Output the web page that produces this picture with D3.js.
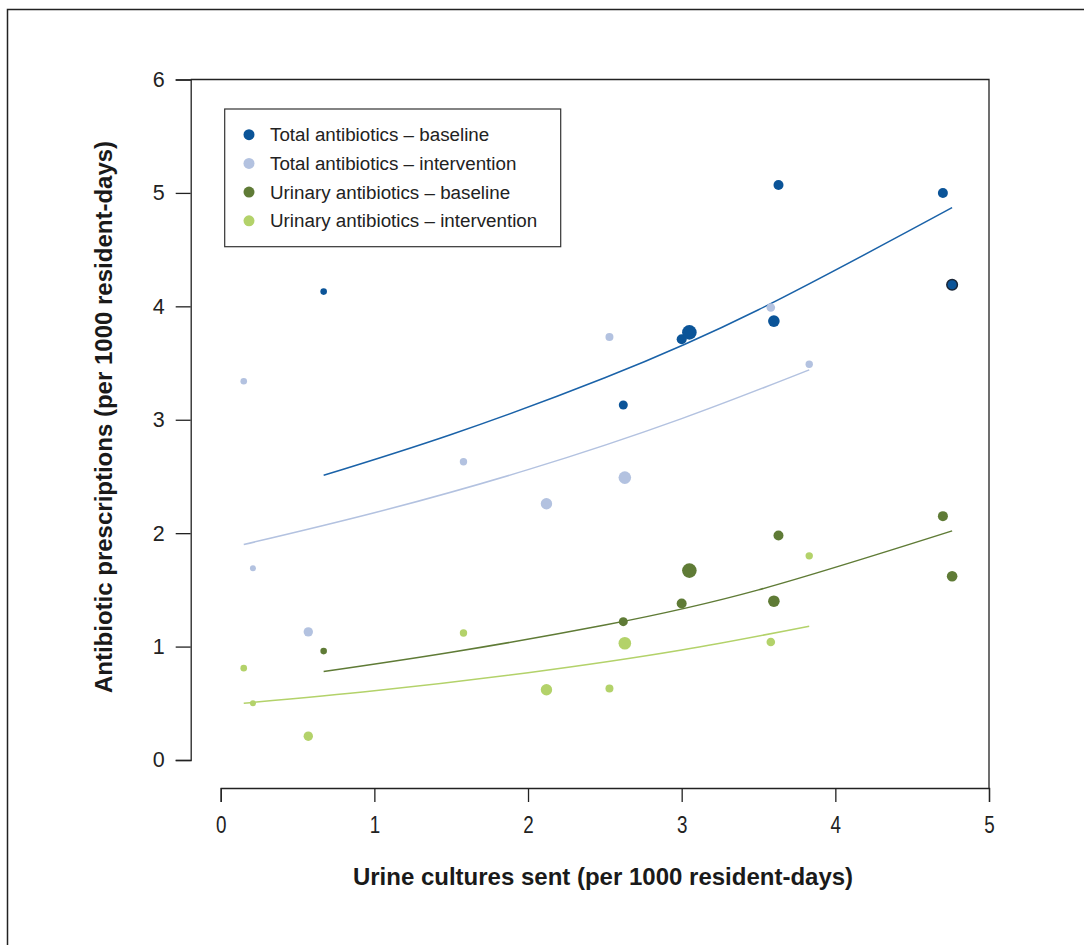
<!DOCTYPE html>
<html>
<head>
<meta charset="utf-8">
<script src="https://cdn.jsdelivr.net/npm/d3@7"></script>
<style>
  body { margin: 0; background: #fff; }
  svg { display: block; font-family: "Liberation Sans", Arial, sans-serif; }
</style>
</head>
<body>
<div id="chart"></div>
<script>
// series names (legend order)
const seriesNames = ["Total antibiotics \u2013 baseline", "Total antibiotics \u2013 intervention",
  "Urinary antibiotics \u2013 baseline", "Urinary antibiotics \u2013 intervention"];
const seriesColors = ["#0b5498", "#b3c2e0", "#5f7b36", "#b3d26a"];
const lineColors = ["#1a62a8", "#b3c2e0", "#5f7b36", "#b3d26a"];

// points: x = urine cultures, y = prescriptions, r = marker radius (home size)
const totalBaseX = [0.67, 2.62, 3.00, 3.05, 3.60, 3.63, 4.70, 4.76];
const totalBaseY = [4.13, 3.13, 3.71, 3.77, 3.87, 5.07, 5.00, 4.19];
const baseR      = [3.3, 4.5, 5.0, 7.3, 5.8, 5.0, 5.0, 5.3];

const totalIntX = [0.15, 0.21, 0.57, 1.58, 2.12, 2.53, 2.63, 3.58, 3.83];
const totalIntY = [3.34, 1.69, 1.13, 2.63, 2.26, 3.73, 2.49, 3.99, 3.49];
const intR      = [3.3, 3.0, 4.7, 3.7, 5.7, 4.0, 6.3, 4.3, 3.7];

const urinBaseX = [0.67, 2.62, 3.00, 3.05, 3.60, 3.63, 4.70, 4.76];
const urinBaseY = [0.96, 1.22, 1.38, 1.67, 1.40, 1.98, 2.15, 1.62];

const urinIntX = [0.15, 0.21, 0.57, 1.58, 2.12, 2.53, 2.63, 3.58, 3.83];
const urinIntY = [0.81, 0.50, 0.21, 1.12, 0.62, 0.63, 1.03, 1.04, 1.80];

// fitted curves
const fitTotalBaseX = [0.67, 1.5, 2.5, 3.5, 4.76];
const fitTotalBaseY = [2.51, 2.87, 3.37, 3.97, 4.87];
const fitTotalIntX  = [0.15, 1.0, 2.0, 3.0, 3.83];
const fitTotalIntY  = [1.90, 2.18, 2.56, 3.01, 3.44];
const fitUrinBaseX  = [0.67, 1.5, 2.5, 3.5, 4.76];
const fitUrinBaseY  = [0.78, 0.95, 1.19, 1.50, 2.02];
const fitUrinIntX   = [0.15, 1.0, 2.0, 3.0, 3.83];
const fitUrinIntY   = [0.50, 0.61, 0.77, 0.97, 1.18];

const xTicks = [0, 1, 2, 3, 4, 5];
const yTicks = [0, 1, 2, 3, 4, 5, 6];

const width = 1084, height = 945;
const svg = d3.select("#chart").append("svg")
  .attr("width", width)
  .attr("height", height);

// outer frame (runs off the right and bottom edges)
svg.append("rect")
  .attr("x", 7.5).attr("y", 9.5)
  .attr("width", 1100).attr("height", 960)
  .attr("fill", "none").attr("stroke", "#222").attr("stroke-width", 1.5);

const x = d3.scaleLinear().domain([0, 5]).range([220.7, 989]);
const y = d3.scaleLinear().domain([0, 6]).range([760, 79.5]);

const axisColor = "#222";

// x axis (detached, R style)
const xAxis = svg.append("g")
  .attr("transform", "translate(0,788)")
  .call(d3.axisBottom(x).tickValues(xTicks).tickFormat(d3.format("d")).tickSize(14).tickPadding(14));
xAxis.select(".domain").attr("stroke", axisColor).attr("stroke-width", 1.3);
xAxis.selectAll(".tick line").attr("stroke", axisColor).attr("stroke-width", 1.3);
// narrow-looking tick numbers
xAxis.selectAll("text")
  .attr("fill", "#222")
  .attr("transform", "scale(0.8,1)")
  .attr("font-size", 23.5)
  .style("font-size", "23.5px");

// y axis
const yAxis = svg.append("g")
  .attr("transform", "translate(190.7,0)")
  .call(d3.axisLeft(y).tickValues(yTicks).tickFormat(d3.format("d")).tickSize(15).tickPadding(11));
yAxis.select(".domain").attr("stroke", axisColor).attr("stroke-width", 1.3);
yAxis.selectAll(".tick line").attr("stroke", axisColor).attr("stroke-width", 1.3);
yAxis.selectAll("text")
  .attr("fill", "#222")
  .attr("font-size", 21.5)
  .style("font-size", "21.5px");

// top and right box lines
svg.append("path")
  .attr("d", `M${x(0) - 30},${y(6)}H${x(5)}V${788}`)
  .attr("fill", "none").attr("stroke", axisColor).attr("stroke-width", 1.3);

// axis titles
svg.append("text")
  .attr("x", 603).attr("y", 885)
  .attr("text-anchor", "middle")
  .attr("font-weight", "bold")
  .attr("font-size", "24px")
  .attr("fill", "#1a1a1a")
  .text("Urine cultures sent (per 1000 resident-days)");

svg.append("text")
  .attr("transform", "translate(112,417) rotate(-90)")
  .attr("text-anchor", "middle")
  .attr("font-weight", "bold")
  .attr("font-size", "24px")
  .attr("fill", "#1a1a1a")
  .text("Antibiotic prescriptions (per 1000 resident-days)");

// fitted lines
const line = d3.line()
  .x(d => x(d[0]))
  .y(d => y(d[1]))
  .curve(d3.curveNatural);

const fits = [
  d3.zip(fitTotalBaseX, fitTotalBaseY),
  d3.zip(fitTotalIntX, fitTotalIntY),
  d3.zip(fitUrinBaseX, fitUrinBaseY),
  d3.zip(fitUrinIntX, fitUrinIntY)
];
fits.forEach((pts, i) => {
  svg.append("path")
    .datum(pts)
    .attr("d", line)
    .attr("fill", "none")
    .attr("stroke", lineColors[i])
    .attr("stroke-width", 1.5);
});

// points
function drawPoints(xs, ys, rs, color) {
  const data = xs.map((v, i) => ({x: v, y: ys[i], r: rs[i]}));
  svg.append("g").selectAll("circle")
    .data(data)
    .join("circle")
    .attr("cx", d => x(d.x))
    .attr("cy", d => y(d.y))
    .attr("r", d => d.r)
    .attr("fill", color);
}

drawPoints(totalIntX, totalIntY, intR, seriesColors[1]);
drawPoints(urinIntX, urinIntY, intR, seriesColors[3]);
drawPoints(urinBaseX, urinBaseY, baseR, seriesColors[2]);
drawPoints(totalBaseX, totalBaseY, baseR, seriesColors[0]);

// outlined point at the far right
svg.append("circle")
  .attr("cx", x(totalBaseX[7])).attr("cy", y(totalBaseY[7]))
  .attr("r", baseR[7])
  .attr("fill", seriesColors[0])
  .attr("stroke", "#1b2636").attr("stroke-width", 1.5);

// legend
const legend = svg.append("g");
legend.append("rect")
  .attr("x", 224.7).attr("y", 109)
  .attr("width", 336).attr("height", 137.7)
  .attr("fill", "#fff").attr("stroke", "#333").attr("stroke-width", 1.2);

seriesNames.forEach((name, i) => {
  const cy = 134.7 + i * 28.7;
  legend.append("circle")
    .attr("cx", 249).attr("cy", cy).attr("r", 5.5)
    .attr("fill", seriesColors[i]);
  legend.append("text")
    .attr("x", 270).attr("y", cy)
    .attr("dy", "0.35em")
    .attr("font-size", "18.8px")
    .attr("fill", "#222")
    .text(name);
});
</script>
</body>
</html>
